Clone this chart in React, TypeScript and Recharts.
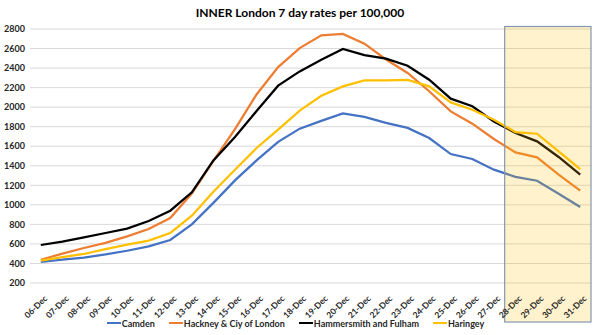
import React from 'react';
import { LineChart, Line, XAxis, YAxis, CartesianGrid, ReferenceArea, Legend } from 'recharts';

const days = ['06-Dec','07-Dec','08-Dec','09-Dec','10-Dec','11-Dec','12-Dec','13-Dec','14-Dec','15-Dec','16-Dec','17-Dec','18-Dec','19-Dec','20-Dec','21-Dec','22-Dec','23-Dec','24-Dec','25-Dec','26-Dec','27-Dec','28-Dec','29-Dec','30-Dec','31-Dec'];
const camden = [415,440,460,492,530,575,640,800,1020,1250,1455,1645,1780,1860,1935,1900,1840,1788,1684,1520,1469,1360,1287,1247,1114,978];
const hackney = [438,500,558,610,677,752,865,1115,1450,1775,2130,2410,2605,2735,2750,2650,2488,2350,2163,1957,1831,1674,1537,1486,1309,1145];
const hammersmith = [589,624,667,712,756,834,940,1128,1455,1695,1960,2220,2366,2486,2595,2532,2496,2424,2281,2087,2009,1854,1735,1650,1490,1309];
const haringey = [430,465,497,546,592,634,712,889,1135,1360,1582,1770,1965,2117,2213,2274,2274,2278,2213,2049,1974,1871,1745,1728,1547,1365];
const yTicks = [200,400,600,800,1000,1200,1400,1600,1800,2000,2200,2400,2600,2800];
const highlightFrom = 21.5;
const highlightTo = 25.5;

const series = [
  { key: 'camden', name: 'Camden', color: '#4472C4' },
  { key: 'hackney', name: 'Hackney & Ciy of London', color: '#ED7D31' },
  { key: 'hammersmith', name: 'Hammersmith and Fulham', color: '#000000' },
  { key: 'haringey', name: 'Haringey', color: '#FFC000' },
];

const data = days.map((d, i) => ({
  i,
  day: d,
  camden: camden[i],
  hackney: hackney[i],
  hammersmith: hammersmith[i],
  haringey: haringey[i],
}));

const FONT = 'Lato, "Open Sans", sans-serif';

const XTick = (props: any) => {
  const { x, y, payload } = props;
  const ax = x + 7;
  const ay = y + 14;
  return (
    <text x={ax} y={ay} transform={`rotate(-45, ${ax}, ${ay})`} textAnchor="end"
      fontFamily={FONT} fontSize={8.5} fontWeight={700} fill="#262626">
      {days[payload.value]}
    </text>
  );
};

const HighlightBox = (props: any) => {
  const { x, y, width, height } = props;
  return (
    <rect x={x} y={y - 2.5} width={width} height={height + 41.5}
      fill="#FFC000" fillOpacity={0.2} stroke="#8497B0" strokeWidth={1.2} />
  );
};

const LegendContent = () => (
  <div style={{ display: 'flex', justifyContent: 'center', alignItems: 'center', height: 16, fontFamily: FONT, fontSize: 9, fontWeight: 700, color: '#262626' }}>
    {series.map((s, idx) => (
      <div key={s.key} style={{ display: 'flex', alignItems: 'center', marginLeft: idx === 0 ? 0 : 14 }}>
        <div style={{ width: 14, height: 2.5, background: s.color }} />
        <span style={{ marginLeft: 1 }}>{s.name}</span>
      </div>
    ))}
  </div>
);

export default function App() {
  return (
    <div style={{ position: 'absolute', left: 0, top: 0, width: 600, height: 335, background: '#fff' }}>
      <div style={{ position: 'absolute', left: 0, top: 5, width: 600, textAlign: 'center', fontFamily: FONT, fontSize: 12, fontWeight: 700, color: '#000' }}>
        INNER London 7 day rates per 100,000
      </div>
      <LineChart width={600} height={335} data={data} margin={{ top: 29, right: 9, left: 0, bottom: 4 }}>
        <CartesianGrid vertical={false} stroke="#D9D9D9" strokeWidth={1} />
        <XAxis dataKey="i" type="number" domain={[-0.5, 25.5]} ticks={days.map((_, i) => i)}
          interval={0} tick={<XTick />} tickLine={false} axisLine={false} tickSize={0} height={32} />
        <YAxis domain={[200, 2800]} ticks={yTicks} width={30} tickLine={false} axisLine={false}
          tickSize={0} tickMargin={5} interval={0}
          tick={{ fontFamily: FONT, fontSize: 9, fontWeight: 700, fill: '#262626' }} />
        {series.map((s) => (
          <Line key={s.key} dataKey={s.key} name={s.name} stroke={s.color} strokeWidth={2.25}
            dot={false} isAnimationActive={false} type="linear" />
        ))}
        <ReferenceArea x1={highlightFrom} x2={highlightTo} y1={200} y2={2800}
          shape={<HighlightBox />} zIndex={1500} ifOverflow="visible" />
        <Legend verticalAlign="bottom" content={<LegendContent />} />
      </LineChart>
    </div>
  );
}
